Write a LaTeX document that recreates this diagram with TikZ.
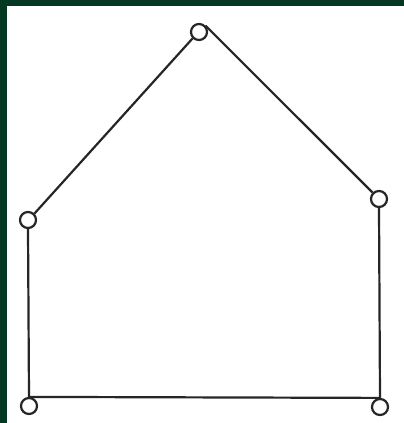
\documentclass[tikz,border=0pt]{standalone}
\definecolor{frame}{HTML}{053822}
\begin{document}
\begin{tikzpicture}[x=1pt,y=-1pt,
  vtx/.style={circle,draw=black!85,line width=2.2pt,fill=white,minimum size=16pt,inner sep=0pt},
  edge/.style={draw=black!85,line width=2.2pt}]
\useasboundingbox (0,0) rectangle (404,423);
\fill[frame] (0,0) rectangle (404,423);
\fill[white] (7,6) rectangle (404,423);
\node[vtx] (tp) at (199,32) {};
\node[vtx] (ml) at (28,220) {};
\node[vtx] (rt) at (379,199) {};
\node[vtx] (bl) at (29,406) {};
\node[vtx] (br) at (380,407) {};
\draw[edge] (tp.south west) -- (ml.north east);
\draw[edge] (tp.north east) -- (rt.north west);
\draw[edge] (ml.south) -- (bl.north);
\draw[edge] (rt.south) -- (br.north);
\draw[edge] (bl.north) -- (br.north);
\end{tikzpicture}
\end{document}
